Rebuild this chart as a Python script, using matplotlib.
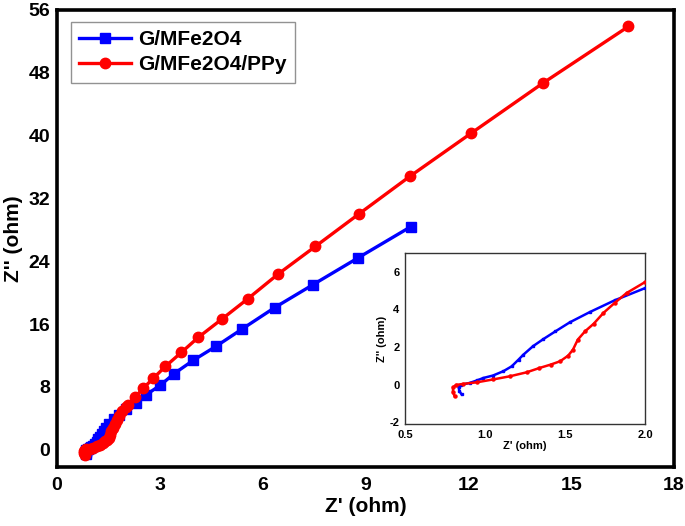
import matplotlib
matplotlib.use("Agg")
import matplotlib.pyplot as plt

plt.rcParams['font.family'] = ['Liberation Sans', 'DejaVu Sans']
plt.rcParams['font.weight'] = 'bold'

blue_label = "G/MFe2O4"
red_label = "G/MFe2O4/PPy"

blue_x = [0.854, 0.84, 0.835, 0.85, 0.906, 0.95, 0.99, 1.05, 1.115, 1.167, 1.21, 1.24,
          1.30, 1.365, 1.44, 1.53, 1.656, 1.81, 2.0, 2.31, 2.60, 3.01, 3.42, 3.98,
          4.65, 5.41, 6.35, 7.46, 8.77, 10.32]
blue_y = [-0.53, -0.35, -0.15, -0.02, 0.09, 0.22, 0.35, 0.48, 0.71, 0.97, 1.33, 1.59,
          2.04, 2.42, 2.83, 3.31, 3.86, 4.48, 5.13, 5.9, 7.0, 8.2, 9.7, 11.4,
          13.2, 15.4, 18.1, 21.0, 24.4, 28.4]

red_x = [0.81, 0.80, 0.80, 0.82, 0.86, 0.95, 1.05, 1.156, 1.26, 1.34, 1.41, 1.47,
         1.52, 1.55, 1.58, 1.625, 1.68, 1.74, 1.81, 1.885, 2.0, 2.08, 2.28, 2.51,
         2.81, 3.16, 3.63, 4.12, 4.80, 5.56, 6.46, 7.54, 8.80, 10.29, 12.08, 14.18, 16.67]
red_y = [-0.62, -0.4, -0.15, -0.02, 0.03, 0.12, 0.27, 0.44, 0.65, 0.88, 1.06, 1.24,
         1.54, 1.86, 2.39, 2.83, 3.24, 3.81, 4.34, 4.87, 5.45, 5.7, 6.7, 7.8,
         9.1, 10.6, 12.4, 14.3, 16.6, 19.2, 22.4, 25.9, 30.0, 34.8, 40.3, 46.7, 53.9]

main_xticks = [0, 3, 6, 9, 12, 15, 18]
main_yticks = [0, 8, 16, 24, 32, 40, 48, 56]
inset_xticks = [0.5, 1.0, 1.5, 2.0]
inset_yticks = [-2, 0, 2, 4, 6]

fig = plt.figure(figsize=(6.85, 5.26), dpi=100)
ax = fig.add_axes([57 / 685, 1 - 467 / 526, (674 - 57) / 685, (467 - 10) / 526])

ax.plot(blue_x, blue_y, color='#0000ff', lw=2.4, marker='s', ms=6.5, label=blue_label, zorder=3)
ax.plot(red_x, red_y, color='#ff0000', lw=2.4, marker='o', ms=7.5, label=red_label, zorder=4)

ax.set_xlim(0, 18)
ax.set_ylim(-2.2, 56)
ax.set_xticks(main_xticks)
ax.set_yticks(main_yticks)
ax.set_xticklabels([str(t) for t in main_xticks], fontsize=14, fontweight='bold')
ax.set_yticklabels([str(t) for t in main_yticks], fontsize=14, fontweight='bold')
ax.tick_params(length=0, pad=7)
ax.tick_params(axis='y', pad=5)
for s in ax.spines.values():
    s.set_linewidth(2.6)
    s.set_color('black')
ax.set_xlabel("Z' (ohm)", fontsize=15, fontweight='bold', labelpad=2)
ax.set_ylabel("Z'' (ohm)", fontsize=15, fontweight='bold', labelpad=4)

leg = ax.legend(loc='upper left', bbox_to_anchor=(0.0227, 0.974), fontsize=15,
                frameon=True, fancybox=False, borderpad=0.4, labelspacing=0.3,
                handlelength=2.5, handletextpad=0.3, borderaxespad=0)
leg.get_frame().set_edgecolor('#777777')
leg.get_frame().set_linewidth(1.0)
for t in leg.get_texts():
    t.set_fontweight('bold')

ins = fig.add_axes([405 / 685, 1 - 424 / 526, 240 / 685, 171 / 526])
ins.plot(blue_x, blue_y, color='#0000ff', lw=1.8, marker='s', ms=2.0, zorder=3)
ins.plot(red_x, red_y, color='#ff0000', lw=1.8, marker='o', ms=2.2, zorder=4)
ins.set_xlim(0.5, 2.0)
ins.set_ylim(-2.1, 7)
ins.set_xticks(inset_xticks)
ins.set_yticks(inset_yticks)
ins.set_xticklabels([f"{t:.1f}" for t in inset_xticks], fontsize=8, fontweight='bold')
ins.set_yticklabels([str(t) for t in inset_yticks], fontsize=8, fontweight='bold')
ins.tick_params(length=0, pad=4)
for s in ins.spines.values():
    s.set_linewidth(1.0)
    s.set_color('#333333')
ins.set_xlabel("Z' (ohm)", fontsize=8, fontweight='bold', labelpad=1)
ins.set_ylabel("Z'' (ohm)", fontsize=8, fontweight='bold', labelpad=2)

fig.savefig("out.png", dpi=100)
